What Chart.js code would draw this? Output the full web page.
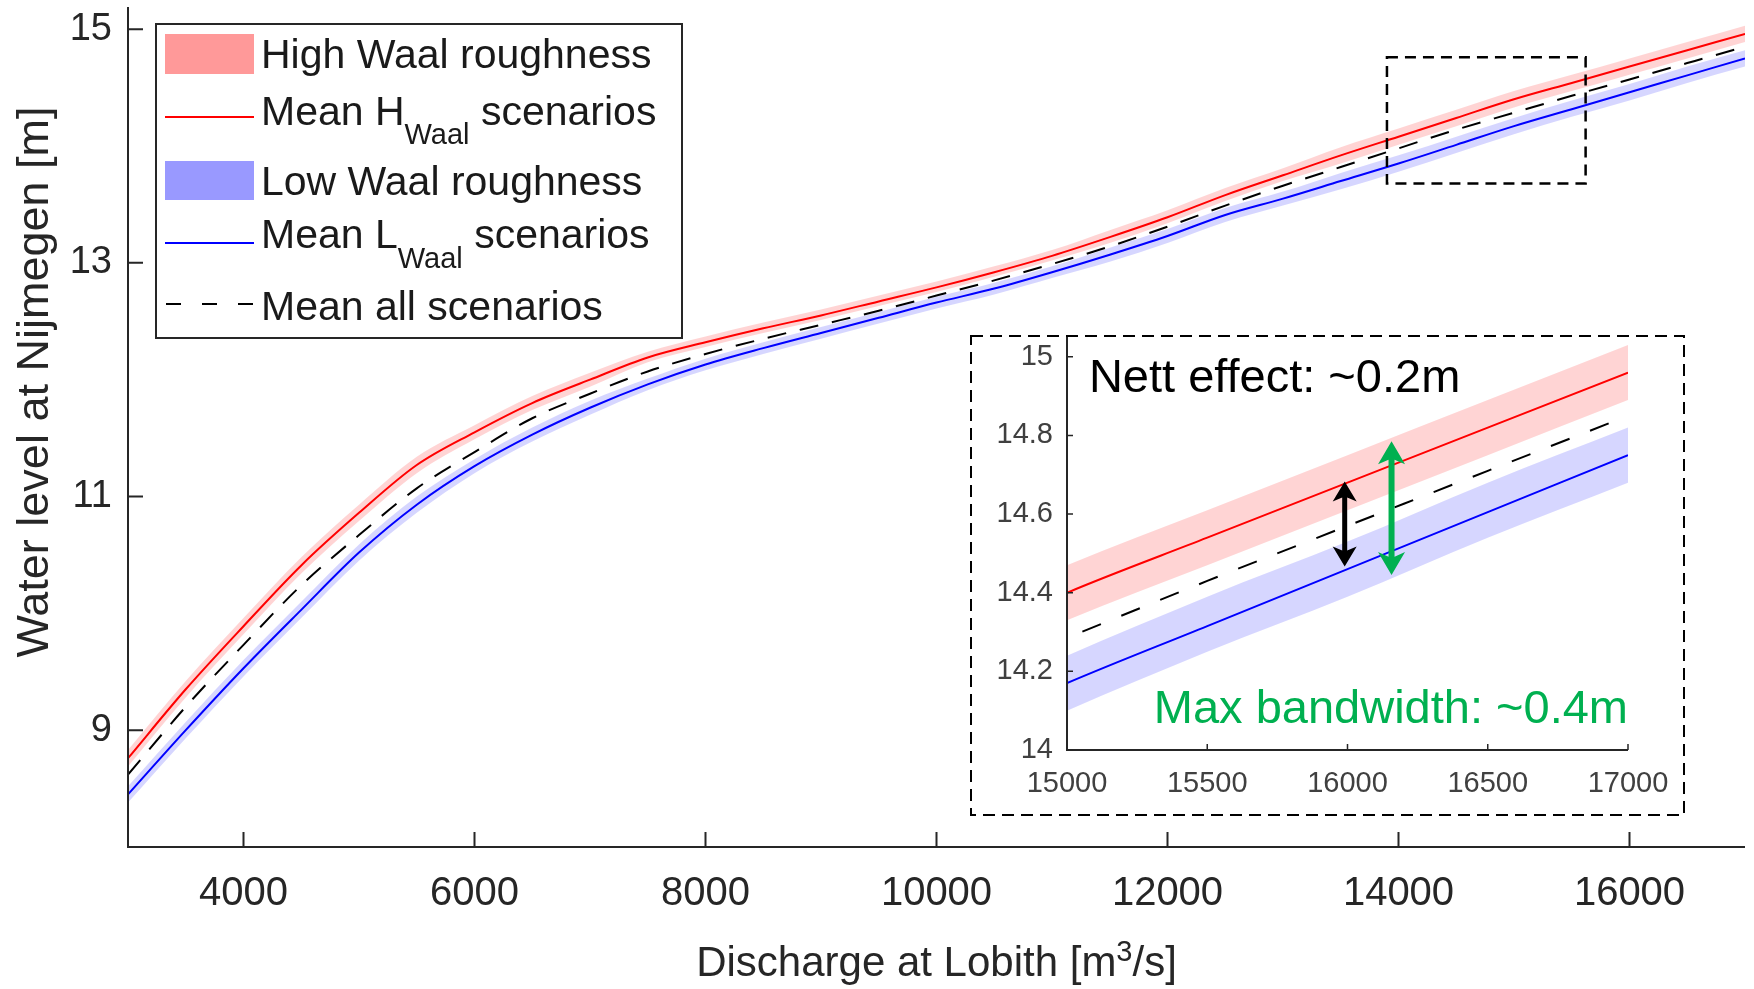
<!DOCTYPE html>
<html>
<head>
<meta charset="utf-8">
<title>Water level at Nijmegen vs discharge at Lobith</title>
<script src="https://cdn.jsdelivr.net/npm/chart.js@4.4.1/dist/chart.umd.min.js"></script>
<style>
  html, body { margin: 0; padding: 0; background: #fff; }
  #wrap { position: relative; width: 1754px; height: 989px; overflow: hidden; }
  #mainChart { position: absolute; left: 0; top: 0; }
  #insetChart { position: absolute; left: 970px; top: 335px; background: #fff; }
</style>
</head>
<body>
<div id="wrap">
  <canvas id="mainChart" width="1754" height="989"></canvas>
  <canvas id="insetChart" width="716" height="481"></canvas>
</div>
<script>
// discharge at Lobith [m3/s]
const discharge = [3000, 3500, 4000, 4500, 5000, 5500, 6000, 6500, 7000, 7500,
                   8000, 8500, 9000, 9500, 10000, 10500, 11000, 11500, 12000, 12500,
                   13000, 13500, 14000, 14500, 15000, 15500, 16000, 16500, 17000];

// high Waal roughness: mean and band edges
const meanHigh  = [8.76, 9.35, 9.89, 10.41, 10.86, 11.27, 11.55, 11.80, 12.00, 12.19,
                   12.32, 12.44, 12.55, 12.67, 12.79, 12.92, 13.06, 13.22, 13.39, 13.58,
                   13.75, 13.92, 14.08, 14.24, 14.40, 14.54, 14.68, 14.82, 14.96];
const highUpper = [8.83, 9.42, 9.96, 10.48, 10.93, 11.34, 11.61, 11.86, 12.06, 12.24,
                   12.37, 12.49, 12.60, 12.72, 12.84, 12.97, 13.11, 13.28, 13.45, 13.64,
                   13.81, 13.99, 14.15, 14.31, 14.47, 14.61, 14.75, 14.89, 15.03];
const highLower = [8.69, 9.28, 9.82, 10.34, 10.79, 11.20, 11.49, 11.74, 11.94, 12.15,
                   12.28, 12.40, 12.51, 12.63, 12.75, 12.88, 13.02, 13.17, 13.34, 13.53,
                   13.70, 13.85, 14.01, 14.17, 14.33, 14.47, 14.61, 14.75, 14.89];

// low Waal roughness: mean and band edges
const meanLow   = [8.45, 9.00, 9.53, 10.03, 10.52, 10.93, 11.26, 11.53, 11.76, 11.96,
                   12.13, 12.27, 12.40, 12.53, 12.66, 12.78, 12.92, 13.07, 13.23, 13.41,
                   13.55, 13.70, 13.85, 14.01, 14.17, 14.315, 14.46, 14.605, 14.75];
const lowUpper  = [8.52, 9.07, 9.60, 10.10, 10.59, 11.00, 11.32, 11.59, 11.82, 12.01,
                   12.18, 12.32, 12.45, 12.58, 12.71, 12.83, 12.97, 13.13, 13.29, 13.47,
                   13.61, 13.77, 13.92, 14.08, 14.24, 14.39, 14.53, 14.68, 14.82];
const lowLower  = [8.38, 8.93, 9.46, 9.96, 10.45, 10.86, 11.20, 11.47, 11.70, 11.91,
                   12.08, 12.22, 12.35, 12.48, 12.61, 12.73, 12.87, 13.01, 13.17, 13.35,
                   13.49, 13.63, 13.78, 13.94, 14.10, 14.25, 14.39, 14.54, 14.68];

// mean of all scenarios
const meanAll   = [8.62, 9.20, 9.73, 10.24, 10.67, 11.07, 11.38, 11.67, 11.88, 12.07,
                   12.22, 12.35, 12.47, 12.59, 12.72, 12.85, 12.99, 13.14, 13.31, 13.49,
                   13.66, 13.82, 13.98, 14.14, 14.285, 14.43, 14.57, 14.71, 14.85];

const xTicks = [4000, 6000, 8000, 10000, 12000, 14000, 16000];
const yTicks = [9, 11, 13, 15];
const insetXTicks = [15000, 15500, 16000, 16500, 17000];
const insetYTicks = [14, 14.2, 14.4, 14.6, 14.8, 15];

// zoom rectangle drawn on the main axes (data units)
const zoomBoxX = [13900, 15620];
const zoomBoxY = [13.68, 14.76];

// inset annotations (data units of the inset)
const nettArrow = { x: 15990, from: 14.683, to: 14.467 };
const bandArrow = { x: 16157, from: 14.785, to: 14.445 };

const FONT = "'Liberation Sans', Arial, Helvetica, sans-serif";
const AXIS = '#262626';
const GREEN = '#00B050';

function pts(ys) { return discharge.map((x, i) => ({ x: x, y: ys[i] })); }

function makeDatasets(dash, lw) {
  const common = { pointRadius: 0, cubicInterpolationMode: 'monotone' };
  return [
    { ...common, data: pts(highUpper), borderWidth: 0, fill: '+1', backgroundColor: 'rgba(255,0,0,0.17)' },
    { ...common, data: pts(highLower), borderWidth: 0, fill: false },
    { ...common, data: pts(lowUpper), borderWidth: 0, fill: '+1', backgroundColor: 'rgba(0,0,255,0.16)' },
    { ...common, data: pts(lowLower), borderWidth: 0, fill: false },
    { ...common, data: pts(meanHigh), borderColor: '#ff0000', borderWidth: lw, fill: false },
    { ...common, data: pts(meanLow), borderColor: '#0000ff', borderWidth: lw, fill: false },
    { ...common, data: pts(meanAll), borderColor: '#000000', borderWidth: lw, borderDash: dash, fill: false }
  ];
}

// text with sub/superscript pieces: [text, size, dy]
function richWidth(ctx, parts) {
  let w = 0;
  parts.forEach(p => { ctx.font = p[1] + 'px ' + FONT; w += ctx.measureText(p[0]).width; });
  return w;
}
function drawRich(ctx, parts, x, y) {
  parts.forEach(p => {
    ctx.font = p[1] + 'px ' + FONT;
    ctx.fillText(p[0], x, y + p[2]);
    x += ctx.measureText(p[0]).width;
  });
}

function drawLegend(ctx) {
  const bx = 156, by = 24, bw = 526, bh = 314;
  ctx.fillStyle = '#fff';
  ctx.fillRect(bx, by, bw, bh);
  ctx.strokeStyle = AXIS;
  ctx.lineWidth = 2;
  ctx.strokeRect(bx, by, bw, bh);

  ctx.fillStyle = '#ff9999';
  ctx.fillRect(165, 34, 89, 40);
  ctx.fillStyle = '#9999ff';
  ctx.fillRect(165, 161, 89, 39);

  ctx.lineWidth = 2;
  ctx.strokeStyle = '#ff0000';
  ctx.beginPath(); ctx.moveTo(165, 117); ctx.lineTo(254, 117); ctx.stroke();
  ctx.strokeStyle = '#0000ff';
  ctx.beginPath(); ctx.moveTo(165, 243); ctx.lineTo(254, 243); ctx.stroke();
  ctx.strokeStyle = '#000';
  ctx.setLineDash([15, 21]);
  ctx.beginPath(); ctx.moveTo(166, 304); ctx.lineTo(256, 304); ctx.stroke();
  ctx.setLineDash([]);

  ctx.fillStyle = '#1a1a1a';
  ctx.textAlign = 'left';
  ctx.textBaseline = 'alphabetic';
  const tx = 261;
  drawRich(ctx, [['High Waal roughness', 41, 0]], tx, 68);
  drawRich(ctx, [['Mean H', 41, 0], ['Waal', 29, 19], [' scenarios', 41, 0]], tx, 125);
  drawRich(ctx, [['Low Waal roughness', 41, 0]], tx, 195);
  drawRich(ctx, [['Mean L', 41, 0], ['Waal', 29, 20], [' scenarios', 41, 0]], tx, 248);
  drawRich(ctx, [['Mean all scenarios', 41, 0]], tx, 320);
}

const mainDecor = {
  id: 'mainDecor',
  afterDatasetsDraw(chart) {
    const { ctx, chartArea: a, scales: { x, y } } = chart;
    ctx.save();
    ctx.strokeStyle = AXIS;
    ctx.lineWidth = 2;
    ctx.beginPath();
    ctx.moveTo(a.left, a.top);
    ctx.lineTo(a.left, a.bottom);
    ctx.lineTo(a.right, a.bottom);
    ctx.stroke();
    ctx.beginPath();
    xTicks.forEach(v => { const px = x.getPixelForValue(v); ctx.moveTo(px, a.bottom); ctx.lineTo(px, a.bottom - 15); });
    yTicks.forEach(v => { const py = y.getPixelForValue(v); ctx.moveTo(a.left, py); ctx.lineTo(a.left + 15, py); });
    ctx.stroke();

    // dashed zoom rectangle
    const x0 = x.getPixelForValue(zoomBoxX[0]), x1 = x.getPixelForValue(zoomBoxX[1]);
    const y0 = y.getPixelForValue(zoomBoxY[1]), y1 = y.getPixelForValue(zoomBoxY[0]);
    ctx.strokeStyle = '#000';
    ctx.lineWidth = 2.5;
    ctx.setLineDash([11, 7]);
    ctx.strokeRect(x0, y0, x1 - x0, y1 - y0);
    ctx.setLineDash([]);
    ctx.restore();
  },
  afterDraw(chart) {
    const { ctx, chartArea: a } = chart;
    ctx.save();
    drawLegend(ctx);

    ctx.fillStyle = AXIS;
    // x axis title
    const xParts = [['Discharge at Lobith [m', 42, 0], ['3', 29, -15], ['/s]', 42, 0]];
    const w = richWidth(ctx, xParts);
    ctx.textAlign = 'left';
    ctx.textBaseline = 'alphabetic';
    drawRich(ctx, xParts, (a.left + a.right) / 2 - w / 2, 976);

    // y axis title
    ctx.translate(48, 382);
    ctx.rotate(-Math.PI / 2);
    ctx.textAlign = 'center';
    ctx.font = '45px ' + FONT;
    ctx.fillText('Water level at Nijmegen [m]', 0, 0);
    ctx.restore();
  }
};

function dblArrow(ctx, px, yTop, yBot, shaft, headW, headL, color) {
  ctx.fillStyle = color;
  ctx.beginPath();
  ctx.moveTo(px, yTop);
  ctx.lineTo(px + headW / 2, yTop + headL);
  ctx.lineTo(px + shaft / 2, yTop + headL * 0.8);
  ctx.lineTo(px + shaft / 2, yBot - headL * 0.8);
  ctx.lineTo(px + headW / 2, yBot - headL);
  ctx.lineTo(px, yBot);
  ctx.lineTo(px - headW / 2, yBot - headL);
  ctx.lineTo(px - shaft / 2, yBot - headL * 0.8);
  ctx.lineTo(px - shaft / 2, yTop + headL * 0.8);
  ctx.lineTo(px - headW / 2, yTop + headL);
  ctx.closePath();
  ctx.fill();
}

const insetDecor = {
  id: 'insetDecor',
  afterDatasetsDraw(chart) {
    const { ctx, chartArea: a, scales: { x, y } } = chart;
    ctx.save();
    ctx.strokeStyle = AXIS;
    ctx.lineWidth = 2;
    ctx.beginPath();
    ctx.moveTo(a.left, a.top);
    ctx.lineTo(a.left, a.bottom);
    ctx.lineTo(a.right, a.bottom);
    ctx.stroke();
    ctx.lineWidth = 1.5;
    ctx.beginPath();
    insetXTicks.forEach(v => { const px = x.getPixelForValue(v); ctx.moveTo(px, a.bottom); ctx.lineTo(px, a.bottom - 6); });
    insetYTicks.forEach(v => { const py = y.getPixelForValue(v); ctx.moveTo(a.left, py); ctx.lineTo(a.left + 6, py); });
    ctx.stroke();

    dblArrow(ctx, x.getPixelForValue(nettArrow.x), y.getPixelForValue(nettArrow.from),
             y.getPixelForValue(nettArrow.to), 5, 24, 20, '#000');
    dblArrow(ctx, x.getPixelForValue(bandArrow.x), y.getPixelForValue(bandArrow.from),
             y.getPixelForValue(bandArrow.to), 6, 27, 23, GREEN);

    ctx.font = '47px ' + FONT;
    ctx.textBaseline = 'alphabetic';
    ctx.fillStyle = '#000';
    ctx.textAlign = 'left';
    ctx.fillText('Nett effect: ~0.2m', x.getPixelForValue(15078), y.getPixelForValue(14.911));
    ctx.fillStyle = GREEN;
    ctx.textAlign = 'right';
    ctx.fillText('Max bandwidth: ~0.4m', x.getPixelForValue(17000), y.getPixelForValue(14.069));

    // dashed frame around the inset
    ctx.strokeStyle = '#000';
    ctx.lineWidth = 2;
    ctx.setLineDash([12, 7]);
    ctx.strokeRect(1, 1, chart.width - 3, chart.height - 2);
    ctx.setLineDash([]);
    ctx.restore();
  }
};

// drop the extra padding Chart.js keeps for the outer tick labels
function noPad(s) { s.paddingTop = 0; s.paddingBottom = 0; s.paddingLeft = 0; s.paddingRight = 0; }

new Chart(document.getElementById('mainChart').getContext('2d'), {
  type: 'line',
  data: { datasets: makeDatasets([19, 14], 2) },
  options: {
    responsive: false,
    animation: false,
    events: [],
    layout: { padding: { top: 7, right: 9, left: 0, bottom: 0 } },
    plugins: {
      legend: { display: false },
      tooltip: { enabled: false },
      filler: { drawTime: 'beforeDatasetsDraw' }
    },
    scales: {
      x: {
        type: 'linear', min: 3000, max: 17000,
        afterBuildTicks: s => { s.ticks = xTicks.map(v => ({ value: v })); },
        afterFit: s => { s.height = 142; noPad(s); },
        grid: { display: false, drawTicks: false },
        border: { display: false },
        ticks: { font: { family: FONT, size: 40 }, color: AXIS, padding: 23, maxRotation: 0, autoSkip: false,
                 callback: v => String(v) }
      },
      y: {
        type: 'linear', min: 8, max: 15.19,
        afterBuildTicks: s => { s.ticks = yTicks.map(v => ({ value: v })); },
        afterFit: s => { s.width = 128; noPad(s); },
        grid: { display: false, drawTicks: false },
        border: { display: false },
        ticks: { font: { family: FONT, size: 38 }, color: AXIS, padding: 16, autoSkip: false,
                 callback: v => String(v) }
      }
    }
  },
  plugins: [mainDecor]
});

new Chart(document.getElementById('insetChart').getContext('2d'), {
  type: 'line',
  data: { datasets: makeDatasets([20, 22], 2) },
  options: {
    responsive: false,
    animation: false,
    events: [],
    layout: { padding: { top: 1, right: 58, left: 0, bottom: 0 } },
    plugins: {
      legend: { display: false },
      tooltip: { enabled: false },
      filler: { drawTime: 'beforeDatasetsDraw' }
    },
    scales: {
      x: {
        type: 'linear', min: 15000, max: 17000,
        afterBuildTicks: s => { s.ticks = insetXTicks.map(v => ({ value: v })); },
        afterFit: s => { s.height = 66; noPad(s); },
        grid: { display: false, drawTicks: false },
        border: { display: false },
        ticks: { font: { family: FONT, size: 29 }, color: '#404040', padding: 17, maxRotation: 0, autoSkip: false,
                 callback: v => String(v) }
      },
      y: {
        type: 'linear', min: 14, max: 15.053,
        afterBuildTicks: s => { s.ticks = insetYTicks.map(v => ({ value: v })); },
        afterFit: s => { s.width = 97; noPad(s); },
        grid: { display: false, drawTicks: false },
        border: { display: false },
        ticks: { font: { family: FONT, size: 29 }, color: '#404040', padding: 14, autoSkip: false,
                 callback: v => String(v) }
      }
    }
  },
  plugins: [insetDecor]
});
</script>
</body>
</html>
